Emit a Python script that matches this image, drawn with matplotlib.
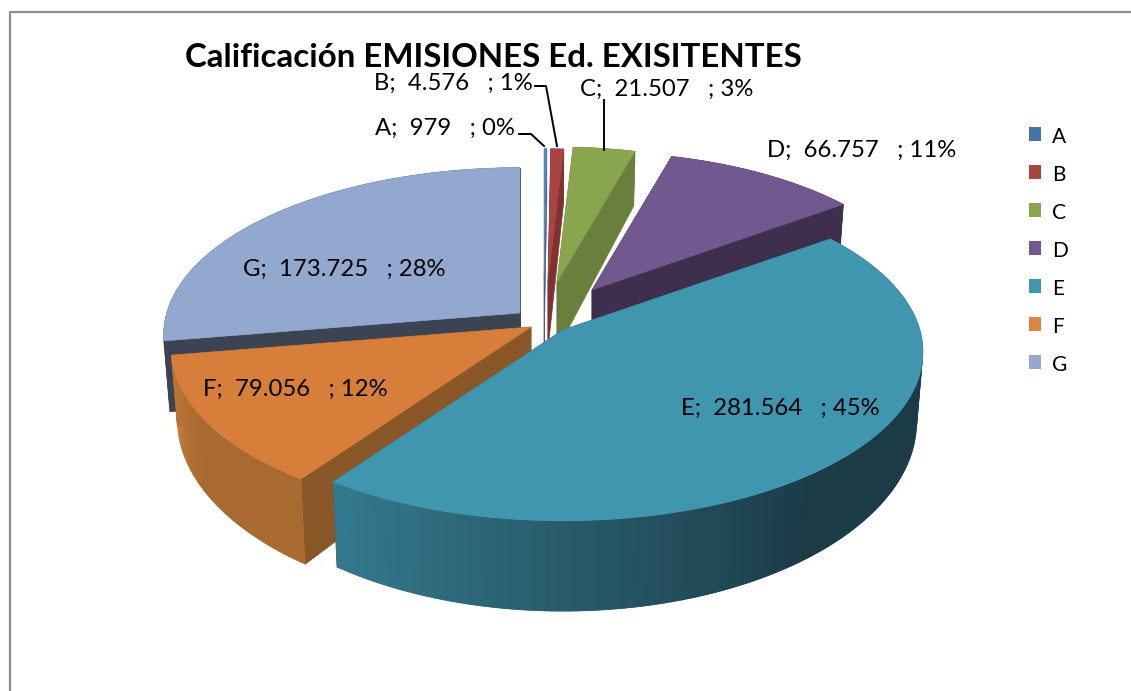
import numpy as np
import matplotlib
matplotlib.use("Agg")
import matplotlib.pyplot as plt
from matplotlib.colors import to_rgb
from matplotlib.patches import Polygon, Rectangle

# data
categories = ["A", "B", "C", "D", "E", "F", "G"]
values = [979, 4576, 21507, 66757, 281564, 79056, 173725]
percents = [0, 1, 3, 11, 45, 12, 28]
title = "Calificación EMISIONES Ed. EXISITENTES"

# look of each slice
top_colors = ["#5b86bd", "#a94443", "#89a54e", "#71588f", "#4096ae", "#d67e3a", "#92a8ce"]
legend_colors = ["#4573a9", "#a94443", "#89a54e", "#71588f", "#4096ae", "#dc853e", "#93a9d0"]
cut_colors = ["#3f5f88", "#7f3231", "#6a7f3e", "#3e2f4c", "#2a6070", "#8a5828", "#3c4353"]
wall_left = ["#3f5f88", "#7f3231", "#6a7f3e", "#3e2f4c", "#34798d", "#c47b3a", "#3c4353"]
wall_right = ["#3f5f88", "#7f3231", "#6a7f3e", "#3e2f4c", "#1b3b47", "#a86a30", "#3c4353"]

# exploded slice tips in pixels, and how big each slice is drawn
apex_x = [544, 548, 557, 592, 563, 531, 520]
apex_y = [281, 281, 282, 290, 330, 327, 313]
scale = [0.9, 0.9, 0.92, 0.94, 1, 1, 0.99]
draw_order = [6, 0, 1, 2, 3, 5, 4]

RX, RY, PERSP = 357, 166, 0.13
DEPTH, DEPTH_PERSP, SHRINK = 68, 0.25, 0.017

label_x = [375, 374, 580, 767, 681, 203, 243]
label_y = [128, 83, 89, 150, 408, 389, 269]


def rim(i, theta):
    c = np.cos(theta)
    w = 1 + PERSP * c
    x = apex_x[i] + scale[i] * RX * np.sin(theta) / w
    y = apex_y[i] - scale[i] * RY * c / w
    return x, y


def drop(i, x, y, theta):
    # same point on the underside of the slice
    d = DEPTH / (1 + DEPTH_PERSP * np.cos(theta))
    return apex_x[i] + (x - apex_x[i]) * (1 - SHRINK), y + d


fig = plt.figure(figsize=(11.31, 6.91), dpi=100)
ax = fig.add_axes([0, 0, 1, 1])
ax.set_xlim(0, 1131)
ax.set_ylim(691, 0)
ax.axis("off")

# chart frame, runs off the picture on the right and at the bottom
ax.plot([10, 10, 1131], [691, 12, 12], color="#8e8e8e", lw=1.6)

shares = np.array(values) / np.sum(values)
edges = np.concatenate([[0], np.cumsum(shares)]) * 2 * np.pi

for order, i in enumerate(draw_order):
    z = 2 + order
    thetas = np.linspace(edges[i], edges[i + 1], 90)
    rx, ry = rim(i, thetas)
    bx, by = drop(i, rx, ry, thetas)
    ax0, ay0 = apex_x[i], apex_y[i]
    ay1 = ay0 + DEPTH

    # the two cut faces go first so the wall hides the one facing away
    for k in (0, -1):
        face = [(ax0, ay0), (rx[k], ry[k]), (bx[k], by[k]), (ax0, ay1)]
        ax.add_patch(Polygon(face, closed=True, fc=cut_colors[i], ec=cut_colors[i], lw=0.5, zorder=z))

    # outer wall in strips that overlap, left side lighter
    left, right = np.array(to_rgb(wall_left[i])), np.array(to_rgb(wall_right[i]))
    n = len(thetas) - 1
    for j in range(n):
        f = min(1, (n - 1 - j) / (n - 1) * 2.2)
        col = left * (1 - f) + right * f
        e = min(j + 2, n)
        quad = [(rx[j], ry[j]), (rx[e], ry[e]), (bx[e], by[e]), (bx[j], by[j])]
        ax.add_patch(Polygon(quad, closed=True, fc=col, ec="none", zorder=z))

    top = np.column_stack([np.r_[ax0, rx], np.r_[ay0, ry]])
    ax.add_patch(Polygon(top, closed=True, fc=top_colors[i], ec=top_colors[i], lw=0.4, zorder=z))

font = "Lato"
for i, cat in enumerate(categories):
    shown = format(values[i], ",").replace(",", ".")
    ax.text(label_x[i], label_y[i], f"{cat};  {shown}   ; {percents[i]}%", family=font,
            fontsize=17.2, color="black", va="center", ha="left", zorder=20)

# leader lines
ax.plot([519, 531, 544], [134, 134, 146], color="black", lw=1.4, zorder=21)
ax.plot([535, 546, 557], [86, 86, 146], color="black", lw=1.4, zorder=21)
ax.plot([604, 604], [100, 150], color="black", lw=1.4, zorder=21)

ax.text(185, 57, title, family=font, fontsize=23.8, fontweight="bold", va="center", ha="left", zorder=22)

# legend
for i, cat in enumerate(categories):
    cy = 134 + 38 * i
    ax.add_patch(Rectangle((1029, cy - 7), 12, 14, fc=legend_colors[i], ec="none", zorder=20))
    ax.text(1052, cy + 3, cat, family=font, fontsize=15, va="center", ha="left", zorder=20)

plt.savefig("out.png", dpi=100)
